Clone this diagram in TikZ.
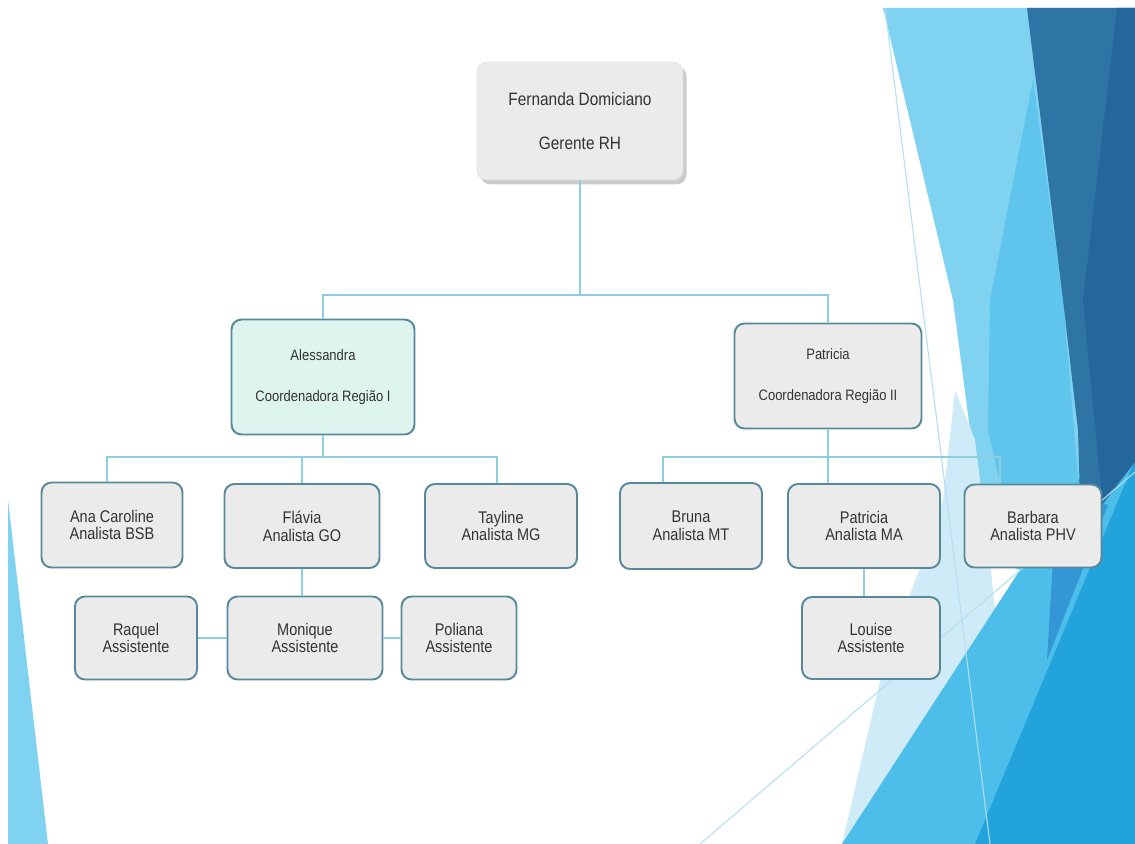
\documentclass[tikz,border=0pt]{standalone}
\usepackage{fontspec}
\setmainfont{Liberation Sans}[FakeStretch=0.86]
\usetikzlibrary{calc,shadows}

\definecolor{boxline}{HTML}{57899A}
\definecolor{boxfill}{HTML}{EBEBEB}
\definecolor{mintfill}{HTML}{DDF4EF}
\definecolor{linkline}{HTML}{8ECFDD}
\definecolor{txt}{HTML}{333333}
\definecolor{skylight}{HTML}{7FD2F0}
\definecolor{skypale}{HTML}{CFEBF7}
\definecolor{skymid}{HTML}{5FC5EC}
\definecolor{skylow}{HTML}{4DBDE9}
\definecolor{skybright}{HTML}{22A3DC}
\definecolor{navy}{HTML}{2E74A5}
\definecolor{navydeep}{HTML}{25669B}
\definecolor{navymix}{HTML}{3397D6}
\definecolor{hairline}{HTML}{B3E0F0}

\begin{document}
\begin{tikzpicture}[x=0.02cm, y=-0.02cm,
	unit/.style={draw=boxline, line width=1.1pt, fill=boxfill, rounded corners=0.2cm, text=txt, align=center, inner sep=0pt, font=\fontsize{9.6}{10.2}\selectfont},
	coord/.style={unit, font=\fontsize{8.6}{23.6}\selectfont},
	boss/.style={unit, draw=black!12, line width=0.4pt, font=\fontsize{10.2}{25}\selectfont, drop shadow={shadow xshift=2pt, shadow yshift=-2.5pt, fill=black!40, opacity=0.5}},
	link/.style={draw=linkline, line width=0.8pt}]
	\useasboundingbox (0,0) rectangle (1135,844);
	\fill[white] (0,0) rectangle (1135,844);

	% facets of the slide background
	\fill[skylight] (883,8) -- (1135,8) -- (1135,500) -- (1020,570) -- (990,560) -- (970,430) -- (953,300) -- cycle;
	\fill[skypale] (955,390) -- (975,440) -- (990,560) -- (1000,660) -- (842,844) -- (885,660) -- (923,560) -- (943,500) -- cycle;
	\fill[skymid] (1033,80) -- (990,300) -- (988,430) -- (1020,570) -- (1080,500) -- (1063,300) -- cycle;
	\fill[skylow] (842,844) -- (1135,393) -- (1135,844) -- cycle;
	\fill[skybright] (1135,460) -- (1135,844) -- (975,844) -- cycle;
	\fill[navymix] (1068,498) -- (1108,505) -- (1047,660) -- (1053,560) -- cycle;
	\fill[navy] (1027,8) -- (1135,8) -- (1135,462) -- (1100,508) -- (1080,500) -- (1078,430) -- (1063,300) -- cycle;
	\fill[navydeep] (1117,8) -- (1135,8) -- (1135,462) -- (1102,500) -- (1083,300) -- (1097,180) -- cycle;
	\fill[skylight] (8,500) -- (48,844) -- (8,844) -- cycle;
	\draw[hairline, line width=0.6pt] (885,8) -- (990,844);
	\draw[hairline, line width=0.6pt] (700,844) -- (1135,472);

	% chart
	\node[boss, minimum width=4.12cm, minimum height=2.36cm] (fer) at (580,121) {Fernanda Domiciano\\Gerente RH};
	\node[coord, fill=mintfill, minimum width=3.66cm, minimum height=2.30cm] (ale) at (323,377) {Alessandra\\Coordenadora Região I};
	\node[coord, minimum width=3.74cm, minimum height=2.10cm] (pat) at (828,376) {Patricia\\Coordenadora Região II};

	\node[unit, minimum width=2.82cm, minimum height=1.70cm] (ana) at (112,525) {Ana Caroline\\Analista BSB};
	\node[unit, minimum width=3.10cm, minimum height=1.68cm] (fla) at (302,526) {Flávia\\Analista GO};
	\node[unit, minimum width=3.04cm, minimum height=1.68cm] (tay) at (501,526) {Tayline\\Analista MG};
	\node[unit, minimum width=2.84cm, minimum height=1.72cm] (bru) at (691,526) {Bruna\\Analista MT};
	\node[unit, minimum width=3.04cm, minimum height=1.68cm] (pan) at (864,526) {Patricia\\Analista MA};
	\node[unit, minimum width=2.74cm, minimum height=1.66cm] (bar) at (1033,526) {Barbara\\Analista PHV};

	\node[unit, minimum width=2.44cm, minimum height=1.66cm] (raq) at (136,638) {Raquel\\Assistente};
	\node[unit, minimum width=3.10cm, minimum height=1.66cm] (mon) at (305,638) {Monique\\Assistente};
	\node[unit, minimum width=2.30cm, minimum height=1.66cm] (pol) at (459,638) {Poliana\\Assistente};
	\node[unit, minimum width=2.76cm, minimum height=1.64cm] (lou) at (871,638) {Louise\\Assistente};

	\coordinate (topbus) at (580,295);
	\coordinate (leftbus) at (323,457);
	\coordinate (rightbus) at (828,457);

	\draw[link] (fer) -- (topbus) -| (ale);
	\draw[link] (topbus) -| (pat);
	\draw[link] (ale) -- (leftbus) -| ($(ana.north)+(-5,0)$);
	\draw[link] (leftbus) -| (fla);
	\draw[link] (leftbus) -| ($(tay.north)+(-4,0)$);
	\draw[link] (pat) -- (rightbus) -| ($(bru.north)+(-28,0)$);
	\draw[link] (rightbus) -- ($(pan.north)+(-36,0)$);
	\draw[link] (rightbus) -| ($(bar.north)+(-33,0)$);
	\draw[link] (fla.south) -- (fla.south |- mon.north);
	\draw[link] (raq) -- (mon);
	\draw[link] (mon) -- (pol);
	\draw[link] (pan.south) -- (pan.south |- lou.north);
\end{tikzpicture}
\end{document}
